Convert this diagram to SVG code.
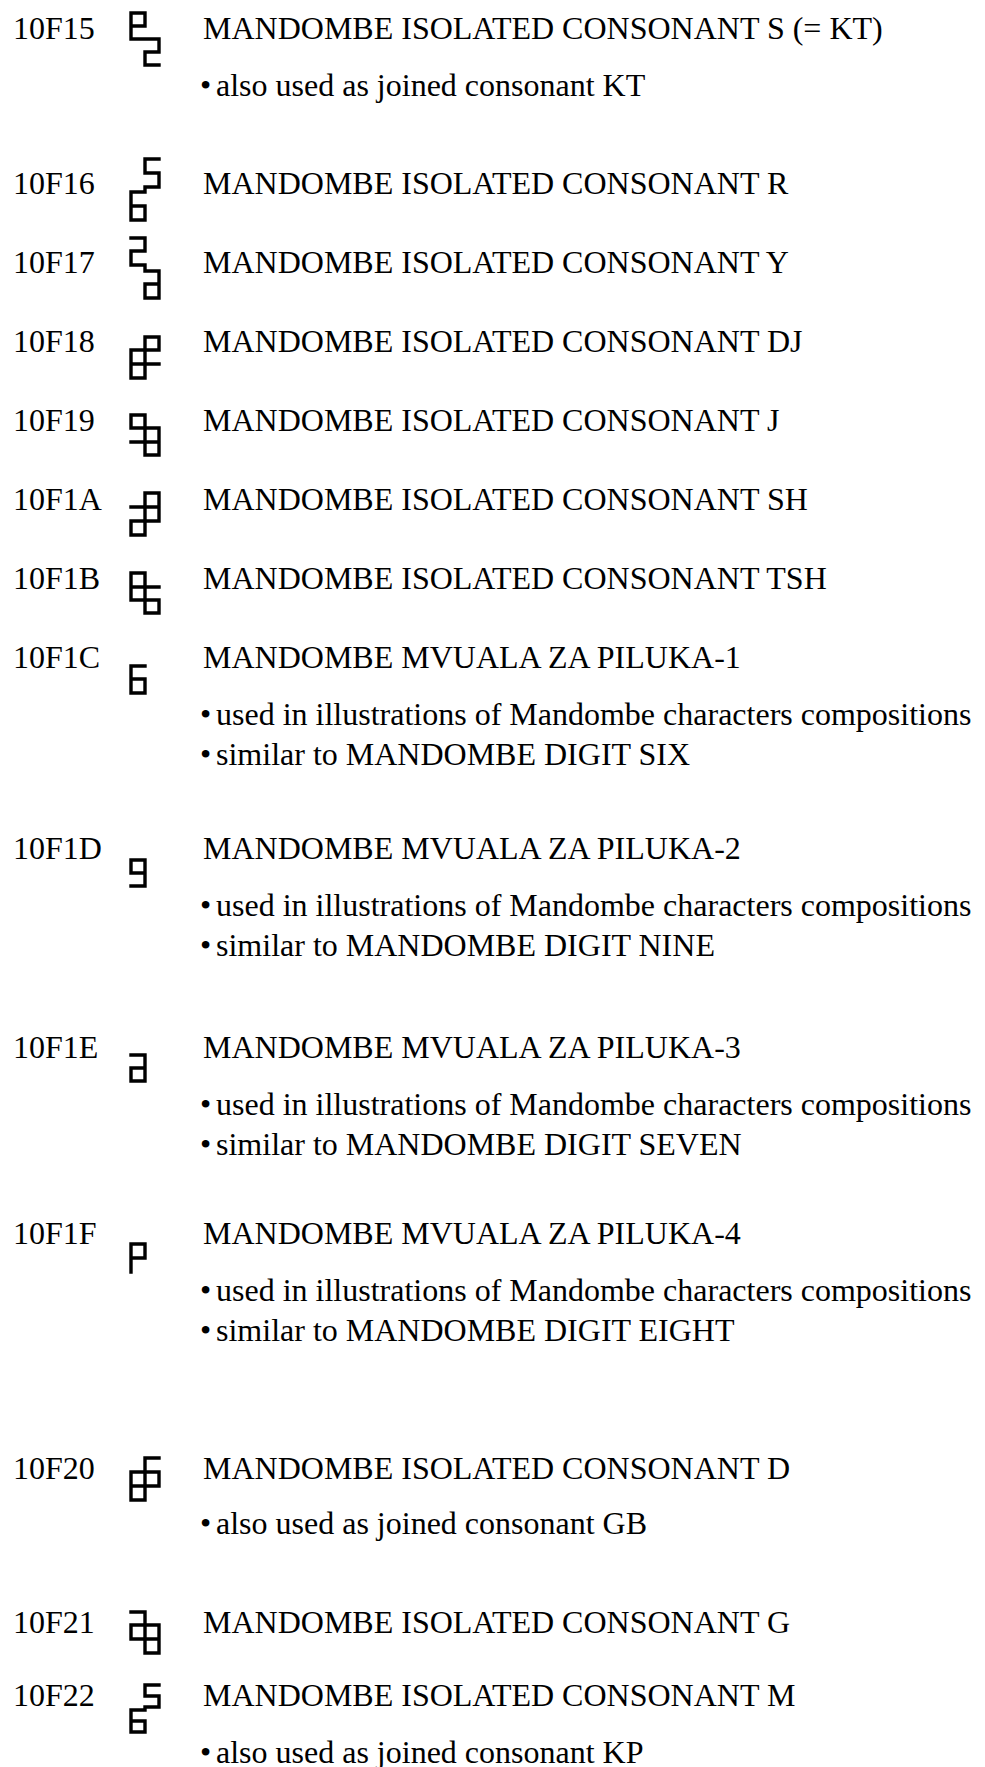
<svg xmlns="http://www.w3.org/2000/svg" width="985" height="1767" viewBox="0 0 985 1767">
<style>
text{font-family:"Liberation Serif","Times New Roman",serif;font-size:32px;fill:#000}
.g{fill:none;stroke:#000;stroke-width:3.4;stroke-linecap:square;stroke-linejoin:miter}
</style>
<rect width="985" height="1767" fill="#fff"/>
<g id="r10F15"><text x="13" y="39">10F15</text><path class="g" d="M131,39 V13 H145 V26 H131 M131,39 H159 V52 H145 V65 H159"/><text x="203" y="39">MANDOMBE ISOLATED CONSONANT S (= KT)</text><text x="200" y="96">•</text><text x="216" y="96">also used as joined consonant KT</text></g>
<g id="r10F16"><text x="13" y="194">10F16</text><path class="g" d="M159,159 H145 V173 H159 V187 H145 V192 H131 V220 H145 V206 H131"/><text x="203" y="194">MANDOMBE ISOLATED CONSONANT R</text></g>
<g id="r10F17"><text x="13" y="273">10F17</text><path class="g" d="M131,238 H145 V251 H131 V265 H145 V271 H159 V298 H145 V284 H159"/><text x="203" y="273">MANDOMBE ISOLATED CONSONANT Y</text></g>
<g id="r10F18"><text x="13" y="352">10F18</text><path class="g" d="M145,337 H159 V350 H131 V378 H145 V337 M131,364 H159"/><text x="203" y="352">MANDOMBE ISOLATED CONSONANT DJ</text></g>
<g id="r10F19"><text x="13" y="431">10F19</text><path class="g" d="M145,415 H131 V428 H159 V455 H145 V415 M131,442 H159"/><text x="203" y="431">MANDOMBE ISOLATED CONSONANT J</text></g>
<g id="r10F1A"><text x="13" y="510">10F1A</text><path class="g" d="M145,493 H159 V521 H131 V535 H145 V493 M131,507 H159"/><text x="203" y="510">MANDOMBE ISOLATED CONSONANT SH</text></g>
<g id="r10F1B"><text x="13" y="589">10F1B</text><path class="g" d="M145,573 H131 V600 H159 V613 H145 V573 M131,587 H159"/><text x="203" y="589">MANDOMBE ISOLATED CONSONANT TSH</text></g>
<g id="r10F1C"><text x="13" y="668">10F1C</text><path class="g" d="M145,666 H131 V693 H145 V679 H131"/><text x="203" y="668">MANDOMBE MVUALA ZA PILUKA-1</text><text x="200" y="725">•</text><text x="216" y="725">used in illustrations of Mandombe characters compositions</text><text x="200" y="765">•</text><text x="216" y="765">similar to MANDOMBE DIGIT SIX</text></g>
<g id="r10F1D"><text x="13" y="859">10F1D</text><path class="g" d="M145,873 H131 V860 H145 V886 H131"/><text x="203" y="859">MANDOMBE MVUALA ZA PILUKA-2</text><text x="200" y="916">•</text><text x="216" y="916">used in illustrations of Mandombe characters compositions</text><text x="200" y="956">•</text><text x="216" y="956">similar to MANDOMBE DIGIT NINE</text></g>
<g id="r10F1E"><text x="13" y="1058">10F1E</text><path class="g" d="M131,1055 H145 V1081 H131 V1068 H145"/><text x="203" y="1058">MANDOMBE MVUALA ZA PILUKA-3</text><text x="200" y="1115">•</text><text x="216" y="1115">used in illustrations of Mandombe characters compositions</text><text x="200" y="1155">•</text><text x="216" y="1155">similar to MANDOMBE DIGIT SEVEN</text></g>
<g id="r10F1F"><text x="13" y="1244">10F1F</text><path class="g" d="M131,1272 V1244 H145 V1258 H131"/><text x="203" y="1244">MANDOMBE MVUALA ZA PILUKA-4</text><text x="200" y="1301">•</text><text x="216" y="1301">used in illustrations of Mandombe characters compositions</text><text x="200" y="1341">•</text><text x="216" y="1341">similar to MANDOMBE DIGIT EIGHT</text></g>
<g id="r10F20"><text x="13" y="1479">10F20</text><path class="g" d="M159,1458 H145 V1500 H131 V1472 H159 V1486 H131"/><text x="203" y="1479">MANDOMBE ISOLATED CONSONANT D</text><text x="200" y="1534">•</text><text x="216" y="1534">also used as joined consonant GB</text></g>
<g id="r10F21"><text x="13" y="1633">10F21</text><path class="g" d="M131,1612 H145 V1653 H159 V1625 H131 V1639 H159"/><text x="203" y="1633">MANDOMBE ISOLATED CONSONANT G</text></g>
<g id="r10F22"><text x="13" y="1706">10F22</text><path class="g" d="M159,1685 H145 V1696 H159 V1707 H145 V1710 H131 V1732 H145 V1721 H131"/><text x="203" y="1706">MANDOMBE ISOLATED CONSONANT M</text><text x="200" y="1763">•</text><text x="216" y="1763">also used as joined consonant KP</text></g>
</svg>
